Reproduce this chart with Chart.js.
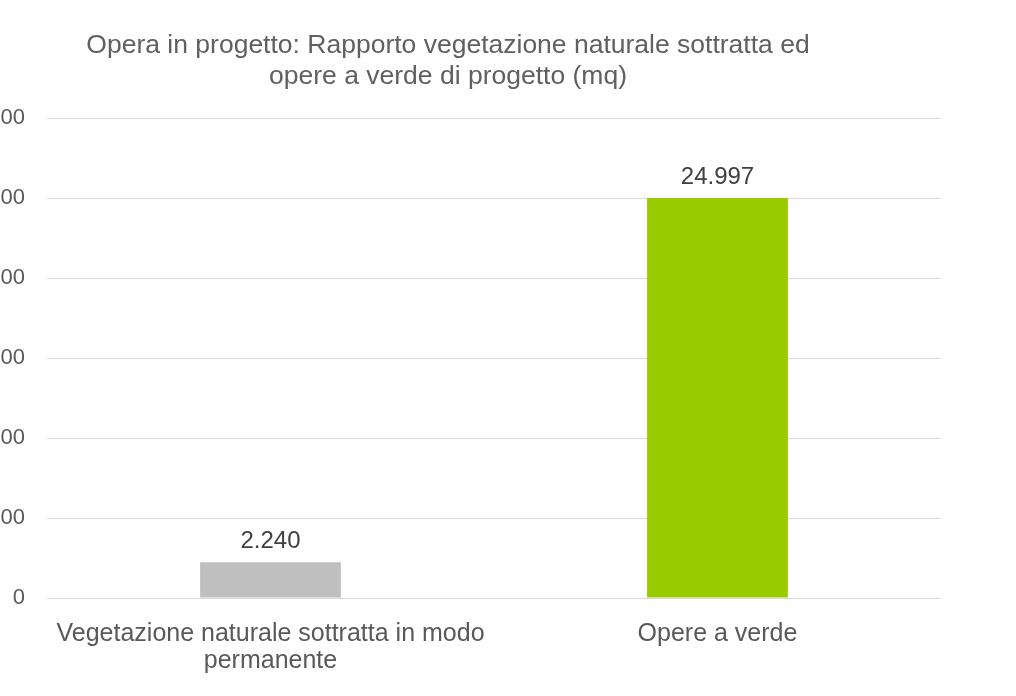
<!DOCTYPE html>
<html>
<head>
<meta charset="utf-8">
<script src="https://cdn.jsdelivr.net/npm/chart.js@4.4.0/dist/chart.umd.min.js"></script>
<style>
  html, body { margin: 0; padding: 0; background: #fff; overflow: hidden; }
  body { width: 1016px; height: 696px; position: relative; }
  #chart { position: absolute; left: -45px; top: 0; }
</style>
</head>
<body>
<canvas id="chart" width="986" height="696"></canvas>
<script>
const categorie = [
    ["Vegetazione naturale sottratta in modo", "permanente"],
    "Opere a verde"
];
const valori = [2240, 24997];
const colori = ['#bfbfbf', '#99cc00'];
const titolo = [
    "Opera in progetto: Rapporto vegetazione naturale sottratta ed",
    "opere a verde di progetto (mq)"
];

function formatta(n) {
    return String(n).replace(/\B(?=(\d{3})+(?!\d))/g, ".");
}

// etichette sopra le barre
const etichette = {
    id: 'etichette',
    afterDatasetsDraw(chart) {
        const ctx = chart.ctx;
        const meta = chart.getDatasetMeta(0);
        ctx.save();
        ctx.font = '24px "Liberation Sans", Arial, sans-serif';
        ctx.fillStyle = '#404040';
        ctx.textAlign = 'center';
        ctx.textBaseline = 'middle';
        meta.data.forEach((bar, i) => {
            ctx.fillText(formatta(valori[i]), bar.x, bar.y - 21);
        });
        ctx.restore();
    }
};

const ctx = document.getElementById('chart');
new Chart(ctx, {
    type: 'bar',
    data: {
        labels: categorie,
        datasets: [{
            data: valori,
            backgroundColor: colori,
            borderWidth: 0,
            barPercentage: 0.5,
            categoryPercentage: 0.63
        }]
    },
    options: {
        responsive: false,
        animation: false,
        layout: { padding: { top: 0, right: 0, bottom: 0, left: 0 } },
        plugins: {
            legend: { display: false },
            tooltip: { enabled: false },
            title: {
                display: true,
                text: titolo,
                color: '#606060',
                font: { family: '"Liberation Sans", Arial, sans-serif', size: 26.5, weight: 'normal', lineHeight: 1.17 },
                padding: { top: 30, bottom: 26 }
            }
        },
        scales: {
            x: {
                grid: { display: false, drawTicks: false },
                border: { color: '#d9d9d9' },
                ticks: {
                    color: '#595959',
                    maxRotation: 0,
                    padding: 23,
                    font: { family: '"Liberation Sans", Arial, sans-serif', size: 25, lineHeight: 1.08 }
                },
                afterFit: s => { s.height = 98; }
            },
            y: {
                min: 0,
                max: 30000,
                grid: { color: '#d9d9d9', drawTicks: false },
                border: { display: false },
                ticks: {
                    stepSize: 5000,
                    color: '#595959',
                    padding: 22,
                    font: { family: '"Liberation Sans", Arial, sans-serif', size: 22 },
                    callback: v => formatta(v)
                },
                afterFit: s => { s.width = 92; }
            }
        }
    },
    plugins: [etichette]
});
</script>
</body>
</html>
